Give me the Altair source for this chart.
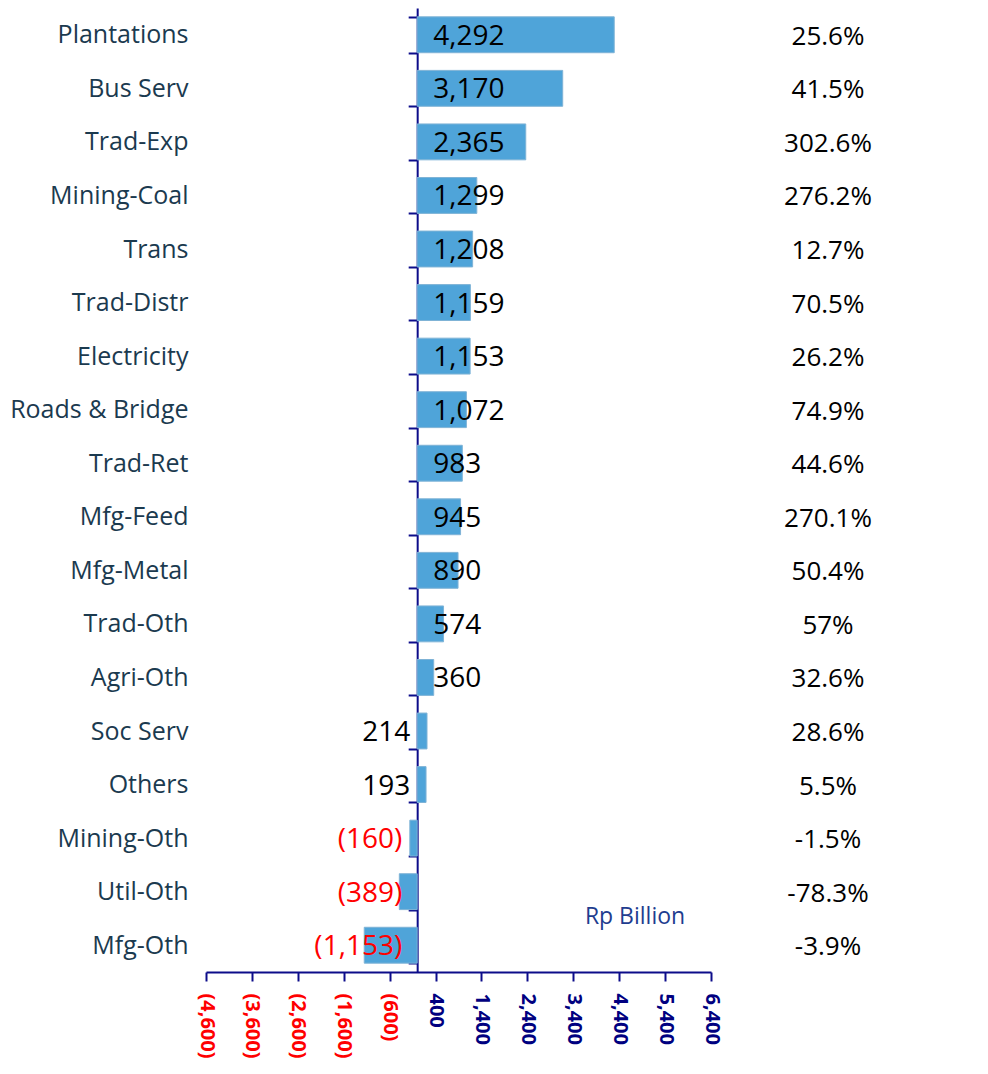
import altair as alt
import pandas as pd

categories = ["Plantations", "Bus Serv", "Trad-Exp", "Mining-Coal", "Trans", "Trad-Distr",
              "Electricity", "Roads & Bridge", "Trad-Ret", "Mfg-Feed", "Mfg-Metal", "Trad-Oth",
              "Agri-Oth", "Soc Serv", "Others", "Mining-Oth", "Util-Oth", "Mfg-Oth"]
values = [4292, 3170, 2365, 1299, 1208, 1159, 1153, 1072, 983, 945, 890, 574,
          360, 214, 193, -160, -389, -1153]
growth = ["25.6%", "41.5%", "302.6%", "276.2%", "12.7%", "70.5%", "26.2%", "74.9%",
          "44.6%", "270.1%", "50.4%", "57%", "32.6%", "28.6%", "5.5%", "-1.5%", "-78.3%", "-3.9%"]
x_ticks = [-4600, -3600, -2600, -1600, -600, 400, 1400, 2400, 3400, 4400, 5400, 6400]
unit_label = ["Rp Billion"]

df = pd.DataFrame({"cat": categories, "v": values, "pct": growth})

W, H = 505, 964
xmin, xmax = x_ticks[0], x_ticks[-1]
zero_px = (0 - xmin) / (xmax - xmin) * W
NAVY = "#0C0C8A"

xscale = alt.Scale(domain=[xmin, xmax], nice=False, zero=False)
xaxis = alt.Axis(
    values=x_ticks, title=None, grid=False,
    labelExpr="datum.value < 0 ? '(' + format(-datum.value, ',') + ')' : format(datum.value, ',')",
    labelAngle=90, labelAlign="left", labelBaseline="middle",
    labelColor=alt.condition("datum.value < 0", alt.value("#FF0000"), alt.value("#000080")),
    labelFont="Open Sans", labelFontWeight="bold", labelFontSize=20, labelPadding=12,
    labelFlush=False, labelOverlap=False,
    domainColor=NAVY, domainWidth=2, tickColor=NAVY, tickWidth=2, tickSize=9,
)
yaxis = alt.Axis(
    title=None, domainColor=NAVY, domainWidth=2, tickColor=NAVY, tickWidth=2, tickSize=9,
    tickBand="extent", offset=-zero_px, labelPadding=zero_px + 9,
    labelFont="Open Sans", labelFontSize=25, labelColor="#1B3A4F", labelLimit=400,
)
y_enc = alt.Y("cat:N", sort=categories, axis=yaxis,
              scale=alt.Scale(paddingInner=0.33, paddingOuter=0.165))

base = alt.Chart(df)

bars = base.mark_bar(color="#4FA4D9", stroke="#7FB3D6", strokeWidth=1).encode(
    x=alt.X("v:Q", scale=xscale, axis=xaxis),
    y=y_enc,
)

lab_base = base.transform_calculate(
    zero="0",
    lab="datum.v < 0 ? '(' + format(-datum.v, ',') + ')' : format(datum.v, ',')",
)
x_zero = alt.X("zero:Q", scale=xscale, axis=xaxis)

lab_in = lab_base.transform_filter("datum.v >= 300").mark_text(
    align="left", dx=16, dy=2, font="Open Sans", fontSize=28, color="black"
).encode(x=x_zero, y=y_enc, text="lab:N")

lab_pos_out = lab_base.transform_filter("datum.v >= 0 && datum.v < 300").mark_text(
    align="right", dx=-7, dy=2, font="Open Sans", fontSize=28, color="black"
).encode(x=x_zero, y=y_enc, text="lab:N")

lab_neg = lab_base.transform_filter("datum.v < 0").mark_text(
    align="right", dx=-15, dy=2, font="Open Sans", fontSize=28, color="#FF0000"
).encode(x=x_zero, y=y_enc, text="lab:N")

pct = base.mark_text(
    align="center", font="Open Sans", fontSize=26, color="black", dy=2
).encode(x=alt.value(622), y=y_enc, text="pct:N")

unit = alt.Chart(pd.DataFrame({"t": unit_label})).mark_text(
    align="center", baseline="middle", font="Open Sans", fontSize=23, color="#1F3D8F"
).encode(x=alt.value(429), y=alt.value(909), text="t:N")

chart = alt.layer(bars, lab_in, lab_pos_out, lab_neg, pct, unit).properties(
    width=W, height=H,
    autosize=alt.AutoSizeParams(type="none"),
    padding={"left": 198, "top": 0, "right": 268, "bottom": 94},
).configure_view(stroke=None)

chart.save("out.html", embed_options={"renderer": "svg", "actions": False})
